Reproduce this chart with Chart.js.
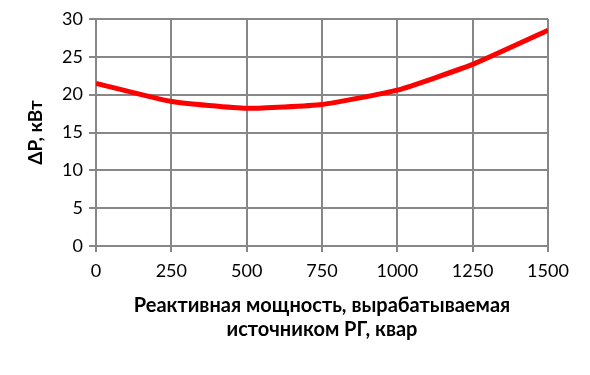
<!DOCTYPE html>
<html>
<head>
<meta charset="utf-8">
<script src="https://cdn.jsdelivr.net/npm/chart.js@4"></script>
<style>
  html, body { margin: 0; padding: 0; background: #fff; }
  #wrap { width: 590px; height: 375px; }
</style>
</head>
<body>
<div id="wrap"><canvas id="lossChart" width="590" height="375"></canvas></div>
<script>
// Данные графика
const qValues = [0, 250, 500, 750, 1000, 1250, 1500];
const lossValues = [21.5, 19.1, 18.2, 18.7, 20.6, 24.0, 28.5];
const xTicks = [0, 250, 500, 750, 1000, 1250, 1500];
const yTicks = [0, 5, 10, 15, 20, 25, 30];

const gridColor = '#878787';
const fontFamily = 'Lato, "Liberation Sans", sans-serif';

const lossData = {
    datasets: [{
        label: 'ΔP, кВт',
        data: qValues.map((q, i) => ({ x: q, y: lossValues[i] })),
        borderColor: '#ff0000',
        borderWidth: 5,
        pointRadius: 0,
        fill: false,
        tension: 0.15
    }]
};

const configLoss = {
    type: 'line',
    data: lossData,
    options: {
        responsive: false,
        animation: false,
        layout: { padding: { top: 19, right: 42, left: 0, bottom: 0 } },
        plugins: {
            legend: { display: false },
            tooltip: { enabled: false }
        },
        scales: {
            x: {
                type: 'linear',
                min: xTicks[0],
                max: xTicks[xTicks.length - 1],
                afterBuildTicks: (scale) => { scale.ticks = xTicks.map(v => ({ value: v })); },
                afterFit: (scale) => { scale.height = 129; },
                grid: { color: gridColor, lineWidth: 2, tickLength: 6 },
                border: { color: gridColor, width: 2 },
                ticks: {
                    color: '#000',
                    font: { family: fontFamily, size: 18 },
                    padding: 8,
                    maxRotation: 0,
                    callback: (v) => String(v)
                },
                title: {
                    display: true,
                    text: ['Реактивная мощность, вырабатываемая', 'источником РГ, квар'],
                    color: '#000',
                    font: { family: fontFamily, size: 20, weight: 'bold' },
                    padding: { top: 0, bottom: 33 }
                }
            },
            y: {
                min: yTicks[0],
                max: yTicks[yTicks.length - 1],
                afterBuildTicks: (scale) => { scale.ticks = yTicks.map(v => ({ value: v })); },
                afterFit: (scale) => { scale.width = 96; },
                grid: { color: gridColor, lineWidth: 2, tickLength: 7 },
                border: { color: gridColor, width: 2 },
                ticks: { color: '#000', font: { family: fontFamily, size: 18 }, padding: 6 },
                title: {
                    display: true,
                    text: 'ΔP, кВт',
                    color: '#000',
                    font: { family: fontFamily, size: 19, weight: 'bold' },
                    padding: { top: 24, bottom: 0 }
                }
            }
        }
    }
};

const lossChart = new Chart(document.getElementById('lossChart'), configLoss);
</script>
</body>
</html>
